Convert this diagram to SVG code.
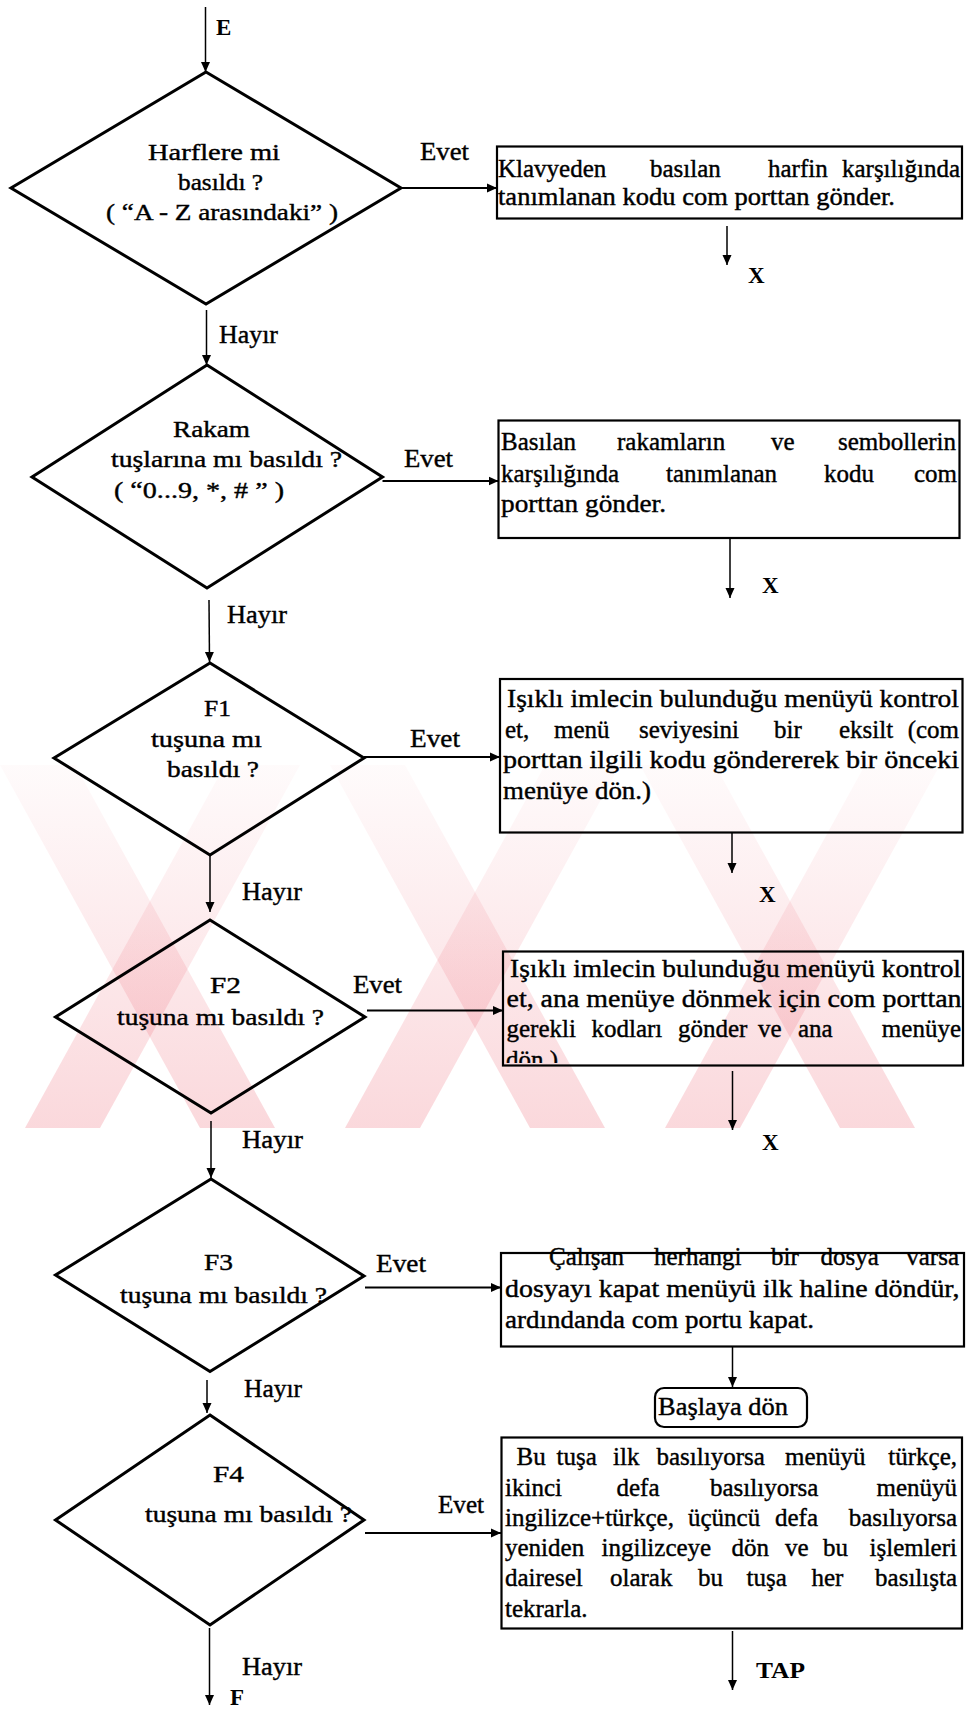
<svg xmlns="http://www.w3.org/2000/svg" width="966" height="1711" viewBox="0 0 966 1711">
  <defs>
    <style>
      .t { font-size: 25px; fill: #000; stroke: #000; stroke-width: 0.4; }
      .d { font-size: 24px; fill: #000; stroke: #000; stroke-width: 0.4; }
      .b { font-size: 23px; font-weight: bold; fill: #000; }
      .dia { fill: none; stroke: #000; stroke-width: 3; stroke-linejoin: miter; }
      .box { fill: none; stroke: #000; stroke-width: 2.2; }
      .v { stroke: #000; stroke-width: 1.5; fill: none; marker-end: url(#ah); }
      .h { stroke: #000; stroke-width: 2.2; fill: none; marker-end: url(#ah); }
      .wm { fill: url(#wmGrad); }
    </style>
    <marker id="ah" viewBox="0 0 10 10" refX="10" refY="5" markerWidth="10" markerHeight="10" markerUnits="userSpaceOnUse" orient="auto">
      <path d="M0,0.5 L10,5 L0,9.5 Z" fill="#000"/>
    </marker>
    <linearGradient id="wmGrad" gradientUnits="userSpaceOnUse" x1="0" y1="765" x2="0" y2="1128">
      <stop offset="0" stop-color="#e6283c" stop-opacity="0.02"/>
      <stop offset="1" stop-color="#e6283c" stop-opacity="0.18"/>
    </linearGradient>
    <clipPath id="wmClip"><rect x="0" y="765" width="966" height="363"/></clipPath>
    <clipPath id="b4Clip"><rect x="503" y="951" width="460" height="112"/></clipPath>
  </defs>

  <rect width="966" height="1711" fill="#fff"/>

  <!-- faint diagonal watermark band -->
  <g id="watermark" clip-path="url(#wmClip)">
    <polygon class="wm" points="0,765 75,765 275,1128 200,1128"/>
    <polygon class="wm" points="330,765 405,765 605,1128 530,1128"/>
    <polygon class="wm" points="640,765 715,765 915,1128 840,1128"/>
    <polygon class="wm" points="225,765 300,765 100,1128 25,1128"/>
    <polygon class="wm" points="545,765 620,765 420,1128 345,1128"/>
    <polygon class="wm" points="865,765 940,765 740,1128 665,1128"/>
  </g>

  <!-- connectors -->
  <g id="connectors" font-family="Liberation Serif">
    <line class="v" x1="205.5" y1="7" x2="205.5" y2="72"/>
    <line class="v" x1="206.5" y1="310" x2="206.5" y2="365"/>
    <line class="h" x1="401" y1="188" x2="497" y2="188"/>
    <line class="v" x1="727" y1="226" x2="727" y2="265"/>
    <line class="h" x1="382.5" y1="481" x2="498.5" y2="481"/>
    <line class="v" x1="730" y1="538" x2="730" y2="598"/>
    <line class="v" x1="209" y1="600" x2="209.5" y2="662"/>
    <line class="h" x1="364" y1="757" x2="500" y2="757"/>
    <line class="v" x1="732" y1="833" x2="732" y2="873"/>
    <line class="v" x1="210" y1="855" x2="210" y2="912"/>
    <line class="h" x1="367" y1="1010.5" x2="503" y2="1010.5"/>
    <line class="v" x1="732.5" y1="1071" x2="732.5" y2="1130"/>
    <line class="v" x1="211" y1="1121" x2="211" y2="1178"/>
    <line class="h" x1="365" y1="1287.5" x2="501" y2="1287.5"/>
    <line class="v" x1="732.5" y1="1347" x2="732.5" y2="1387"/>
    <line class="v" x1="207" y1="1380" x2="207" y2="1413"/>
    <line class="h" x1="365" y1="1533" x2="501" y2="1533"/>
    <line class="v" x1="732.5" y1="1631" x2="732.5" y2="1690"/>
    <line class="v" x1="209.5" y1="1628" x2="209.5" y2="1705"/>

    <text class="b" x="216" y="35">E</text>
    <text class="t" x="420" y="160" textLength="49" lengthAdjust="spacingAndGlyphs">Evet</text>
    <text class="b" x="748" y="283">X</text>
    <text class="t" x="219" y="343" textLength="59" lengthAdjust="spacingAndGlyphs">Hayır</text>
    <text class="t" x="404" y="466.5" textLength="49" lengthAdjust="spacingAndGlyphs">Evet</text>
    <text class="b" x="762" y="593">X</text>
    <text class="t" x="227" y="623" textLength="60" lengthAdjust="spacingAndGlyphs">Hayır</text>
    <text class="t" x="410" y="746.5" textLength="50" lengthAdjust="spacingAndGlyphs">Evet</text>
    <text class="b" x="759" y="901.5">X</text>
    <text class="t" x="242" y="900" textLength="60" lengthAdjust="spacingAndGlyphs">Hayır</text>
    <text class="t" x="353" y="993" textLength="49" lengthAdjust="spacingAndGlyphs">Evet</text>
    <text class="b" x="762" y="1150">X</text>
    <text class="t" x="242" y="1148" textLength="61" lengthAdjust="spacingAndGlyphs">Hayır</text>
    <text class="t" x="376" y="1271.5" textLength="50" lengthAdjust="spacingAndGlyphs">Evet</text>
    <text class="t" x="244" y="1396.5" textLength="58" lengthAdjust="spacingAndGlyphs">Hayır</text>
    <text class="t" x="438" y="1513" textLength="46" lengthAdjust="spacingAndGlyphs">Evet</text>
    <text class="b" x="756" y="1678" textLength="49" lengthAdjust="spacingAndGlyphs">TAP</text>
    <text class="t" x="242" y="1675" textLength="60" lengthAdjust="spacingAndGlyphs">Hayır</text>
    <text class="b" x="230" y="1705">F</text>
  </g>

  <g id="nodes" font-family="Liberation Serif">
  <!-- decision: letters -->
  <g id="dec-harf">
    <polygon class="dia" points="206,72 401,188 206,304 11,188"/>
    <text class="d" x="148" y="160" textLength="132" lengthAdjust="spacingAndGlyphs">Harflere mi</text>
    <text class="d" x="178" y="190" textLength="85" lengthAdjust="spacingAndGlyphs">basıldı ?</text>
    <text class="d" x="106" y="220" textLength="232" lengthAdjust="spacingAndGlyphs">( “A - Z arasındaki” )</text>
  </g>

  <!-- action: send letter code -->
  <g id="act-harf">
    <rect class="box" x="497" y="146.5" width="465" height="72"/>
    <text class="t" y="176.5"><tspan x="498">Klavyeden</tspan><tspan x="650">basılan</tspan><tspan x="768">harfin</tspan><tspan x="960" text-anchor="end">karşılığında</tspan></text>
    <text class="t" x="498" y="205" textLength="397" lengthAdjust="spacingAndGlyphs">tanımlanan kodu com porttan gönder.</text>
  </g>

  <!-- decision: digits -->
  <g id="dec-rakam">
    <polygon class="dia" points="207,365 382.5,477 207,588 32,477"/>
    <text class="d" x="173" y="436.5" textLength="77" lengthAdjust="spacingAndGlyphs">Rakam</text>
    <text class="d" x="111" y="467" textLength="231" lengthAdjust="spacingAndGlyphs">tuşlarına mı basıldı ?</text>
    <text class="d" x="114" y="498" textLength="170" lengthAdjust="spacingAndGlyphs">( “0...9, *, # ” )</text>
  </g>

  <!-- action: send digit code -->
  <g id="act-rakam">
    <rect class="box" x="498.5" y="420.5" width="461" height="117.5"/>
    <text class="t" y="450"><tspan x="501">Basılan</tspan><tspan x="617">rakamların</tspan><tspan x="771">ve</tspan><tspan x="956" text-anchor="end">sembollerin</tspan></text>
    <text class="t" y="481.5"><tspan x="501">karşılığında</tspan><tspan x="666">tanımlanan</tspan><tspan x="824">kodu</tspan><tspan x="957" text-anchor="end">com</tspan></text>
    <text class="t" x="501" y="511.5" textLength="165" lengthAdjust="spacingAndGlyphs">porttan gönder.</text>
  </g>

  <!-- decision: F1 -->
  <g id="dec-f1">
    <polygon class="dia" points="210,663 364,758 210,855 54,758"/>
    <text class="d" x="204" y="716" textLength="27" lengthAdjust="spacingAndGlyphs">F1</text>
    <text class="d" x="151" y="746.5" textLength="111" lengthAdjust="spacingAndGlyphs">tuşuna mı</text>
    <text class="d" x="167" y="776.5" textLength="92" lengthAdjust="spacingAndGlyphs">basıldı ?</text>
  </g>

  <!-- action: one menu level back -->
  <g id="act-f1">
    <rect class="box" x="500" y="679" width="462.5" height="153.5"/>
    <text class="t" x="507" y="706.5" textLength="452" lengthAdjust="spacingAndGlyphs">Işıklı imlecin bulunduğu menüyü kontrol</text>
    <text class="t" y="738"><tspan x="505">et,</tspan><tspan x="554">menü</tspan><tspan x="639">seviyesini</tspan><tspan x="774">bir</tspan><tspan x="839">eksilt</tspan><tspan x="959" text-anchor="end">(com</tspan></text>
    <text class="t" x="503" y="768" textLength="456" lengthAdjust="spacingAndGlyphs">porttan ilgili kodu göndererek bir önceki</text>
    <text class="t" x="503" y="799" textLength="148" lengthAdjust="spacingAndGlyphs">menüye dön.)</text>
  </g>

  <!-- decision: F2 -->
  <g id="dec-f2">
    <polygon class="dia" points="210,920 365,1017 211,1113 55.5,1017"/>
    <text class="d" x="210" y="993" textLength="31" lengthAdjust="spacingAndGlyphs">F2</text>
    <text class="d" x="117" y="1025" textLength="207" lengthAdjust="spacingAndGlyphs">tuşuna mı basıldı ?</text>
  </g>

  <!-- action: back to main menu -->
  <g id="act-f2">
    <rect class="box" x="503" y="951.5" width="460" height="114"/>
    <text class="t" x="510" y="977" textLength="451" lengthAdjust="spacingAndGlyphs">Işıklı imlecin bulunduğu menüyü kontrol</text>
    <text class="t" x="506.5" y="1007" textLength="455" lengthAdjust="spacingAndGlyphs">et, ana menüye dönmek için com porttan</text>
    <text class="t" y="1036.5"><tspan x="506.5">gerekli</tspan><tspan x="591.5">kodları</tspan><tspan x="678">gönder</tspan><tspan x="758">ve</tspan><tspan x="798">ana</tspan><tspan x="961" text-anchor="end">menüye</tspan></text>
    <text class="t" x="506" y="1068" clip-path="url(#b4Clip)">dön.)</text>
  </g>

  <!-- decision: F3 -->
  <g id="dec-f3">
    <polygon class="dia" points="211,1179 364,1276 210,1371.5 55.5,1275"/>
    <text class="d" x="204" y="1270" textLength="29" lengthAdjust="spacingAndGlyphs">F3</text>
    <text class="d" x="120" y="1303" textLength="207" lengthAdjust="spacingAndGlyphs">tuşuna mı basıldı ?</text>
  </g>

  <!-- action: close file and port -->
  <g id="act-f3">
    <rect class="box" x="501" y="1253" width="463" height="93.5"/>
    <text class="t" y="1265"><tspan x="549">Çalışan</tspan><tspan x="654">herhangi</tspan><tspan x="771">bir</tspan><tspan x="820.5">dosya</tspan><tspan x="959" text-anchor="end">varsa</tspan></text>
    <text class="t" x="505" y="1296.5" textLength="454.5" lengthAdjust="spacingAndGlyphs">dosyayı kapat menüyü ilk haline döndür,</text>
    <text class="t" x="505" y="1328" textLength="309" lengthAdjust="spacingAndGlyphs">ardındanda com portu kapat.</text>
  </g>

  <!-- terminal: return to start -->
  <g id="ret-start">
    <rect class="box" x="655" y="1388" width="152" height="39" rx="9" ry="9" stroke-width="1.5"/>
    <text class="t" x="658" y="1415" textLength="130" lengthAdjust="spacingAndGlyphs">Başlaya dön</text>
  </g>

  <!-- decision: F4 -->
  <g id="dec-f4">
    <polygon class="dia" points="210,1415 364,1520 210,1625 55.5,1520"/>
    <text class="d" x="213" y="1481.5" textLength="31" lengthAdjust="spacingAndGlyphs">F4</text>
    <text class="d" x="145" y="1521.5" textLength="207" lengthAdjust="spacingAndGlyphs">tuşuna mı basıldı ?</text>
  </g>

  <!-- action: cycle menu language -->
  <g id="act-f4">
    <rect class="box" x="501.5" y="1437.5" width="460.5" height="191"/>
    <text class="t" y="1465"><tspan x="516.5">Bu</tspan><tspan x="556.5">tuşa</tspan><tspan x="613">ilk</tspan><tspan x="656.5">basılıyorsa</tspan><tspan x="785">menüyü</tspan><tspan x="957" text-anchor="end">türkçe,</tspan></text>
    <text class="t" y="1495.5"><tspan x="505">ikinci</tspan><tspan x="616.5">defa</tspan><tspan x="710">basılıyorsa</tspan><tspan x="957" text-anchor="end">menüyü</tspan></text>
    <text class="t" y="1526"><tspan x="505">ingilizce+türkçe,</tspan><tspan x="688">üçüncü</tspan><tspan x="775">defa</tspan><tspan x="957" text-anchor="end">basılıyorsa</tspan></text>
    <text class="t" y="1556"><tspan x="505">yeniden</tspan><tspan x="601.5">ingilizceye</tspan><tspan x="731.5">dön</tspan><tspan x="785">ve</tspan><tspan x="823">bu</tspan><tspan x="957" text-anchor="end">işlemleri</tspan></text>
    <text class="t" y="1586"><tspan x="505">dairesel</tspan><tspan x="610">olarak</tspan><tspan x="698">bu</tspan><tspan x="746.5">tuşa</tspan><tspan x="811.5">her</tspan><tspan x="957" text-anchor="end">basılışta</tspan></text>
    <text class="t" x="505" y="1616.5">tekrarla.</text>
  </g>
  </g>
</svg>
